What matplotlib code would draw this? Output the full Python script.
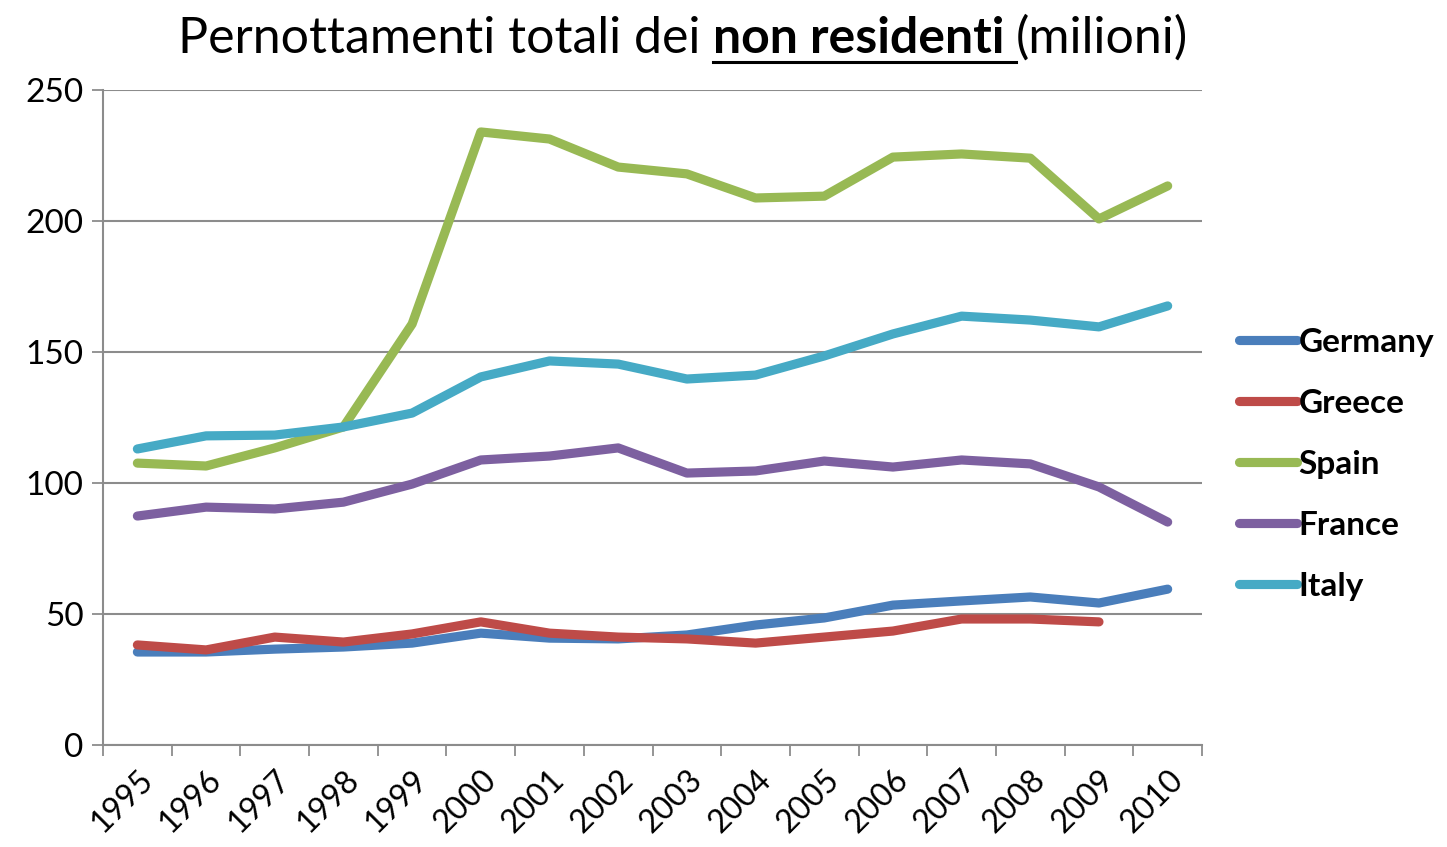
import matplotlib
matplotlib.use("Agg")
import matplotlib.pyplot as plt
from matplotlib.lines import Line2D

plt.rcParams['font.family'] = ['Lato', 'DejaVu Sans']

anni = [str(a) for a in range(1995, 2011)]
germany = [35.5, 35.5, 36.6, 37.4, 38.9, 42.7, 40.8, 40.5, 42.0, 45.8, 48.5, 53.4, 55.0, 56.5, 54.2, 59.5]
greece = [38.2, 36.3, 41.2, 39.3, 42.4, 47.0, 42.7, 41.2, 40.5, 38.9, 41.2, 43.5, 48.1, 48.1, 47.0, None]
spain = [107.6, 106.5, 113.4, 121.4, 160.7, 234.0, 231.3, 220.6, 218.0, 208.8, 209.5, 224.4, 225.6, 224.0, 200.8, 213.4]
france = [87.4, 90.8, 90.1, 92.7, 99.6, 108.8, 110.3, 113.4, 103.8, 104.6, 108.4, 106.1, 108.8, 107.3, 98.5, 85.1]
italy = [113.0, 118.0, 118.3, 121.4, 126.7, 140.5, 146.6, 145.4, 139.7, 141.2, 148.5, 156.9, 163.7, 162.2, 159.6, 167.6]

serie = [('Germany', germany, '#4A7EBB'),
         ('Greece', greece, '#BE4B48'),
         ('Spain', spain, '#98B954'),
         ('France', france, '#7D60A0'),
         ('Italy', italy, '#46AAC5')]

fig = plt.figure(figsize=(14.47, 8.47), dpi=100)
ax = fig.add_axes([0.0712, 0.1204, 0.7595, 0.7733])

x = list(range(len(anni)))
for nome, valori, colore in serie:
    xs = [i for i, v in zip(x, valori) if v is not None]
    ys = [v for v in valori if v is not None]
    ax.plot(xs, ys, color=colore, lw=6.6, solid_capstyle='round', solid_joinstyle='round', label=nome)

ax.set_xlim(-0.5, len(anni) - 0.5)
ax.set_ylim(0, 250)
ax.set_yticks(range(0, 251, 50))
ax.yaxis.grid(True, color='#8c8c8c', lw=1.5)
ax.set_axisbelow(True)
ax.set_xticks(x)
ax.set_xticklabels(anni, rotation=45, ha='right', va='top', rotation_mode='anchor', fontsize=23)
ax.set_xticks([i - 0.5 for i in range(len(anni) + 1)], minor=True)
ax.tick_params(axis='x', which='major', length=0, pad=14)
ax.tick_params(axis='x', which='minor', length=8, width=1.3, color='#8c8c8c')
ax.tick_params(axis='y', length=8, width=1.3, color='#8c8c8c', labelsize=24, pad=6)
for s in ['top', 'right']:
    ax.spines[s].set_visible(False)
for s in ['left', 'bottom']:
    ax.spines[s].set_color('#8c8c8c')
    ax.spines[s].set_linewidth(1.5)

leg = ax.legend(loc='upper left', bbox_to_anchor=(0.856, 0.613), bbox_transform=fig.transFigure,
                frameon=False, handlelength=1.75, handletextpad=0.05, labelspacing=0.96,
                borderpad=0, borderaxespad=0, prop={'weight': 'bold', 'size': 24})
for h in leg.get_lines():
    h.set_linewidth(6.6)

# titolo con parte in grassetto sottolineato
fs = 36
ty = 0.938
t1 = fig.text(0.5, ty, 'Pernottamenti totali dei ', fontsize=fs, va='baseline', ha='left')
fig.canvas.draw()
r = fig.canvas.get_renderer()
t2 = fig.text(0, ty, 'non residenti ', fontsize=fs, weight='bold', va='baseline', ha='left')
t3 = fig.text(0, ty, '(milioni)', fontsize=fs, va='baseline', ha='left')
w1 = t1.get_window_extent(r).width
w2 = t2.get_window_extent(r).width
w3 = t3.get_window_extent(r).width
W = fig.bbox.width
tot = w1 + w2 + w3
x0 = 683 / W - tot / 2 / W
t1.set_x(x0)
t2.set_x(x0 + w1 / W)
t3.set_x(x0 + (w1 + w2) / W)
yline = ty - 0.011
fig.add_artist(Line2D([x0 + w1 / W, x0 + (w1 + w2) / W], [yline, yline], color='black', lw=2.2,
                      transform=fig.transFigure))

fig.savefig('out.png', dpi=100)
